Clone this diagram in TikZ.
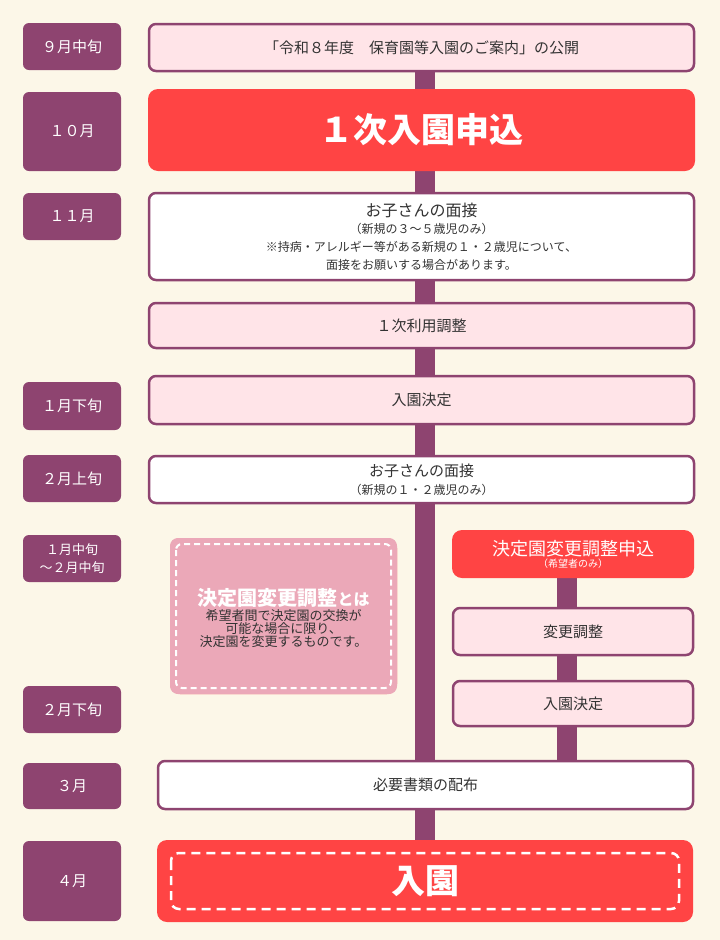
\documentclass[tikz,border=0pt]{standalone}
\usepackage{fontspec}
\setmainfont{Noto Sans CJK JP}
\definecolor{bg}{HTML}{FCF7E8}
\definecolor{plum}{HTML}{8E4470}
\definecolor{pinkf}{HTML}{FFE4E8}
\definecolor{redf}{HTML}{FF4444}
\definecolor{notef}{HTML}{EBA8B8}
\definecolor{txt}{HTML}{333333}
\tikzset{
 lab/.style={rounded corners=6pt,fill=plum,text=white,font=\fontsize{15}{18}\selectfont,align=center,inner sep=0pt},
 pbox/.style={rounded corners=7pt,draw=plum,line width=2.5pt,fill=pinkf,text=txt,align=center,inner sep=0pt,font=\fontsize{15}{18}\selectfont},
 wbox/.style={pbox,fill=white},
 rbox/.style={rounded corners=10pt,fill=redf,text=white,align=center,inner sep=0pt},
 bar/.style={fill=plum,draw=none}
}
\newcommand{\boxat}[6]{\node[#1,minimum width={(#4)-(#2)},minimum height={(#5)-(#3)}] (#6) at ({(#2+#4)/2},{-(#3+#5)/2})}
\begin{document}
\begin{tikzpicture}[x=1pt,y=1pt]
\fill[bg] (0,0) rectangle (720,-940);
\useasboundingbox (0,0) rectangle (720,-940);
% bars
\fill[bar] (415,-70) rectangle (435,-842);
\fill[bar] (557,-578) rectangle (577,-762);
% labels
\boxat{lab}{23}{23}{121}{70}{l1} {９月中旬};
\boxat{lab}{23}{92}{121}{171}{l2} {１０月};
\boxat{lab}{23}{193}{121}{240}{l3} {１１月};
\boxat{lab}{23}{382}{121}{430}{l4} {１月下旬};
\boxat{lab}{23}{455}{121}{502}{l5} {２月上旬};
\boxat{lab}{23}{535}{121}{582}{l6} {\fontsize{13}{15}\selectfont １月中旬\\\fontsize{13}{15}\selectfont ～２月中旬};
\boxat{lab}{23}{686}{121}{733}{l7} {２月下旬};
\boxat{lab}{23}{763}{121}{809}{l8} {３月};
\boxat{lab}{23}{841}{121}{921}{l9} {４月};
% main
\boxat{pbox}{149}{24}{694}{71}{b1} {「令和８年度　保育園等入園のご案内」の公開};
\boxat{rbox}{148}{89}{695}{171}{b2} {\fontsize{34}{40}\selectfont\bfseries １次入園申込};
\boxat{wbox}{149}{193}{694}{280}{b3} {\fontsize{16}{19}\selectfont お子さんの面接\\[-1pt]\fontsize{12}{15}\selectfont （新規の３～５歳児のみ）\\\fontsize{12}{15}\selectfont ※持病・アレルギー等がある新規の１・２歳児について、\\\fontsize{12}{15}\selectfont 面接をお願いする場合があります。};
\boxat{pbox}{149}{303}{694}{348}{b4} {１次利用調整};
\boxat{pbox}{149}{376}{694}{424}{b5} {入園決定};
\boxat{wbox}{149}{456}{694}{503}{b6} {\fontsize{15}{17}\selectfont お子さんの面接\\\fontsize{12}{14}\selectfont （新規の１・２歳児のみ）};
\boxat{rbox}{452}{530}{694}{578}{b7} {\fontsize{18}{21}\selectfont 決定園変更調整申込\\\fontsize{10}{12}\selectfont （希望者のみ）};
\boxat{pbox}{453}{608}{693}{655}{b8} {変更調整};
\boxat{pbox}{453}{681}{693}{726}{b9} {入園決定};
\boxat{wbox}{158}{761}{693}{809}{b10} {必要書類の配布};
\boxat{rbox}{157}{840}{693}{922}{b11} {\fontsize{34}{40}\selectfont\bfseries 入園};
\draw[white,dashed,line width=2.5pt,dash pattern=on 9pt off 6pt,rounded corners=8pt] (171,-853) rectangle (679,-909);
% note
\boxat{rbox}{170}{538}{397}{694}{nt} {};
\fill[notef,rounded corners=8pt] (170,-538) rectangle (397,-694);
\draw[white,line width=2pt,dash pattern=on 6pt off 4pt,rounded corners=6pt] (176,-544) rectangle (391,-688);
\node[align=center,text=txt,inner sep=0pt] (ntx) at (283.5,-618) {{\fontsize{20}{24}\selectfont\bfseries\color{white}決定園変更調整{\fontsize{16}{20}\selectfont とは}}\\[1pt]\fontsize{13}{17}\selectfont 希望者間で決定園の交換が\\\fontsize{13}{17}\selectfont 可能な場合に限り、\\\fontsize{13}{17}\selectfont 決定園を変更するものです。};
\end{tikzpicture}
\end{document}
